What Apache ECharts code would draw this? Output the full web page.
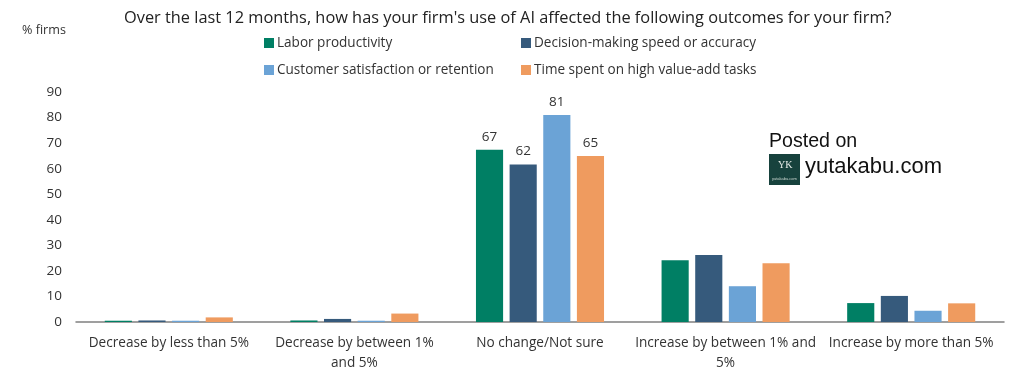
<!DOCTYPE html>
<html><head><meta charset="utf-8">
<style>html,body{margin:0;padding:0;background:#fff}#c{width:1024px;height:383px}</style>
<script src="https://cdn.jsdelivr.net/npm/echarts@6/dist/echarts.min.js"></script>
</head><body><div id="c"></div>
<script>
const categories = ["Decrease by less than 5%","Decrease by between 1%\nand 5%","No change/Not sure","Increase by between 1% and\n5%","Increase by more than 5%"];
const laborProductivity = [0.5,0.6,67.4,24.2,7.4];
const decisionMaking = [0.6,1.2,61.6,26.2,10.2];
const customerSatisfaction = [0.5,0.5,81,14,4.4];
const timeSpent = [1.8,3.3,65,23,7.3];
const seriesNames = ["Labor productivity","Decision-making speed or accuracy","Customer satisfaction or retention","Time spent on high value-add tasks"];
const seriesColors = ["#007F64","#365A7C","#6BA3D6","#EF9B5F"];
const seriesValues = [laborProductivity,decisionMaking,customerSatisfaction,timeSpent];
const labeledCategory = 2;
const font = '"Open Sans","Noto Sans",sans-serif';
const textColor = '#333';
const legendPos = [[264,36],[521,36],[264,63],[521,63]];
const chart = echarts.init(document.getElementById('c'),null,{renderer:'canvas'});
chart.setOption({
  animation:false,
  backgroundColor:'#fff',
  title:{text:"Over the last 12 months, how has your firm's use of AI affected the following outcomes for your firm?",left:124,top:10,padding:0,textStyle:{fontFamily:font,fontSize:16.35,fontWeight:'normal',color:'#222'}},
  legend:seriesNames.map((n,i)=>({data:[n],left:legendPos[i][0],top:legendPos[i][1],padding:0,icon:'rect',itemWidth:10,itemHeight:10,itemGap:0,textStyle:{fontFamily:font,fontSize:13.55,color:textColor,padding:[0,0,0,-2]}})),
  grid:{left:76,right:20,top:92,bottom:61},
  xAxis:{type:'category',data:categories,axisTick:{show:false},axisLine:{lineStyle:{color:'#808080',width:1.5}},
    axisLabel:{fontFamily:font,fontSize:13.6,color:textColor,margin:11,lineHeight:20,interval:0}},
  yAxis:{type:'value',min:0,max:90,interval:10,splitLine:{show:false},axisLine:{show:false},axisTick:{show:false},
    axisLabel:{fontFamily:font,fontSize:13.5,color:textColor,margin:14},
    name:'% firms',nameLocation:'end',nameGap:0,nameTextStyle:{fontFamily:font,fontSize:12.6,color:textColor,align:'left',padding:[0,0,55,-54]}},
  series:seriesNames.map((n,i)=>({name:n,type:'bar',barGap:'24%',barCategoryGap:'31%',itemStyle:{color:seriesColors[i]},
    data:seriesValues[i].map((v,j)=>j===labeledCategory?{value:v,label:{show:true,position:'top',distance:6,fontFamily:font,fontSize:13.5,color:textColor,formatter:p=>Math.round(p.value)}}:v)})),
  graphic:[
    {type:'text',left:769,top:132,style:{text:'Posted on',font:'19.6px "Liberation Sans",Arial,sans-serif',fill:'#111'}},
    {type:'rect',left:769,top:154,shape:{width:31,height:31},style:{fill:'#17423D'}},
    {type:'text',left:778,top:160,style:{text:'YK',font:'10px "Liberation Serif",serif',fill:'#e8eee9'}},
    {type:'text',left:772,top:177,style:{text:'yutakabu.com',font:'4px "Liberation Sans",sans-serif',fill:'#cdd8d2'}},
    {type:'text',left:805,top:156,style:{text:'yutakabu.com',font:'22px "Liberation Sans",Arial,sans-serif',fill:'#111'}}
  ]
});
</script></body></html>
